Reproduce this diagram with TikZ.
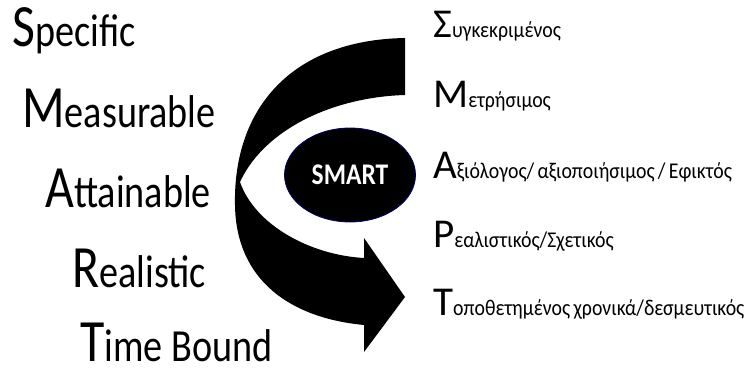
\documentclass[tikz,border=0pt]{standalone}
\usepackage{graphicx}
\usepackage{fontspec}
\setmainfont{Carlito}
\usepackage{tikz}
\usetikzlibrary{shapes,arrows,calc,positioning}
\tikzset{
        word/.style = {anchor=base west, inner sep=0pt},
        smartoval/.style = {draw=blue!45!black, line width=0.8pt,
            fill=black, ellipse, text=white,
            minimum width=131pt, minimum height=94pt,
            font=\bfseries\fontsize{30}{30}\selectfont},
        bigarrow/.style = {fill=black},
    }
\newcommand{\initword}[2]{\scalebox{.83}[1]{{\fontsize{60}{60}\selectfont #1}{\fontsize{46}{46}\selectfont #2}}}
\newcommand{\grword}[2]{{\fontsize{41}{41}\selectfont #1}\scalebox{.88}[1]{\fontsize{22.5}{22.5}\selectfont #2}}

\begin{document}
\begin{tikzpicture}[x=1pt,y=-1pt]
                \useasboundingbox (0,0) rectangle (750,369);
                % curved arrow
                \path[bigarrow] (405,38) -- (405,95)
                    .. controls (335,97) and (265,128) .. (240,182)
                    .. controls (255,225) and (310,255) .. (364,258)
                    -- (364,238) -- (405,297) -- (364,352) -- (364,325)
                    .. controls (290,318) and (236,280) .. (235,205)
                    .. controls (233,110) and (290,40) .. (405,38) -- cycle;

                \node[smartoval] (smart) at (350,175) {\scalebox{.85}[1]{SMART}};

                % english words
                \node[word] (s) at (12,47) {\initword{S}{pecific}};
                \node[word] (m) at (22,128) {\initword{M}{easurable}};
                \node[word] (a) at (45,207) {\initword{A}{ttainable}};
                \node[word] (r) at (72,287) {\initword{R}{ealistic}};
                \node[word] (t) at (80,361) {\initword{T}{ime Bound}};

                % greek words
                \node[word] (gs) at (433,38) {\grword{Σ}{υγκεκριμένος}};
                \node[word] (gm) at (433,107) {\grword{Μ}{ετρήσιμος}};
                \node[word] (ga) at (433,178) {\grword{Α}{ξιόλογος/\,αξιοποιήσιμος\,/\,Εφικτός}};
                \node[word] (gr) at (433,247) {\grword{Ρ}{εαλιστικός/Σχετικός}};
                \node[word] (gt) at (433,315) {\grword{Τ}{οποθετημένος\,χρονικά/δεσμευτικός}};
\end{tikzpicture}
\end{document}
